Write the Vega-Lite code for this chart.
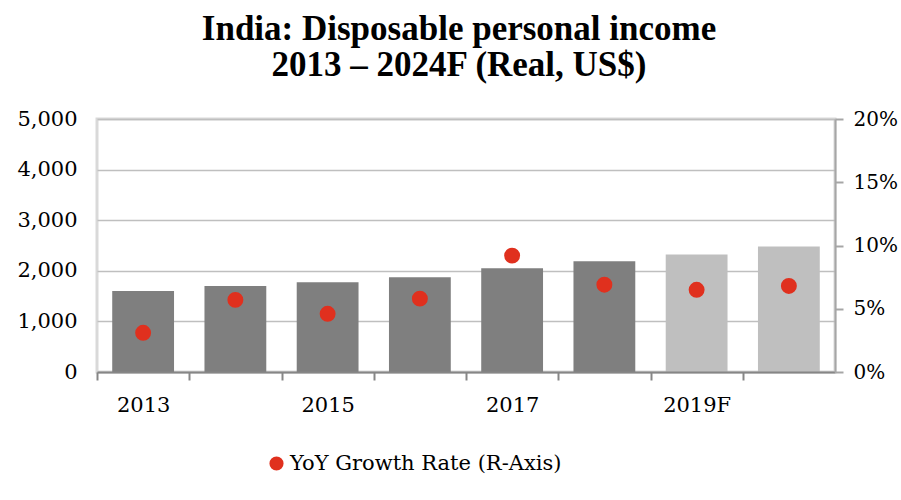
{
  "$schema": "https://vega.github.io/schema/vega-lite/v6.json",
  "autosize": "none",
  "width": 738,
  "height": 253,
  "padding": {"left": 97, "top": 119, "right": 66, "bottom": 128},
  "background": "white",
  "config": {
    "view": {"stroke": "#d9d9d9", "strokeWidth": 3},
    "font": "DejaVu Serif"
  },
  "title": {
    "text": ["India: Disposable personal income", "2013 – 2024F (Real, US$)"],
    "font": "Liberation Serif",
    "fontWeight": "bold",
    "fontSize": 35,
    "lineHeight": 36,
    "color": "#000000",
    "anchor": "middle",
    "dx": -7,
    "offset": 25
  },
  "data": {
    "values": [
      {"year": "2013", "income": 1600, "growth": 0.031, "type": "Actual", "series": "YoY Growth Rate (R-Axis)"},
      {"year": "2014", "income": 1700, "growth": 0.057, "type": "Actual", "series": "YoY Growth Rate (R-Axis)"},
      {"year": "2015", "income": 1775, "growth": 0.046, "type": "Actual", "series": "YoY Growth Rate (R-Axis)"},
      {"year": "2016", "income": 1875, "growth": 0.058, "type": "Actual", "series": "YoY Growth Rate (R-Axis)"},
      {"year": "2017", "income": 2050, "growth": 0.092, "type": "Actual", "series": "YoY Growth Rate (R-Axis)"},
      {"year": "2018", "income": 2190, "growth": 0.069, "type": "Actual", "series": "YoY Growth Rate (R-Axis)"},
      {"year": "2019F", "income": 2320, "growth": 0.065, "type": "Forecast", "series": "YoY Growth Rate (R-Axis)"},
      {"year": "2020F", "income": 2480, "growth": 0.068, "type": "Forecast", "series": "YoY Growth Rate (R-Axis)"}
    ]
  },
  "encoding": {
    "x": {
      "field": "year",
      "type": "nominal",
      "sort": null,
      "scale": {"paddingInner": 0.33, "paddingOuter": 0.165},
      "axis": {
        "title": null,
        "labelAngle": 0,
        "labelFont": "DejaVu Serif",
        "labelFontSize": 21,
        "labelColor": "#000000",
        "labelExpr": "indexof(['2013','2015','2017','2019F'], datum.value) >= 0 ? datum.value : ''",
        "tickOffset": -46.1,
        "labelOffset": 46.1,
        "tickSize": 8,
        "tickColor": "#868686",
        "tickWidth": 2,
        "domainColor": "#868686",
        "domainWidth": 2,
        "labelPadding": 14,
        "zindex": 2
      }
    }
  },
  "layer": [
    {
      "mark": {"type": "bar"},
      "encoding": {
        "y": {
          "field": "income",
          "type": "quantitative",
          "scale": {"domain": [0, 5000]},
          "axis": {
            "title": null,
            "values": [0, 1000, 2000, 3000, 4000, 5000],
            "format": ",.0f",
            "grid": true,
            "gridColor": "#bfbfbf",
            "gridWidth": 1.5,
            "domain": false,
            "ticks": false,
            "labelFont": "DejaVu Serif",
            "labelFontSize": 21,
            "labelColor": "#000000",
            "labelPadding": 20
          }
        },
        "color": {
          "field": "type",
          "type": "nominal",
          "scale": {"domain": ["Actual", "Forecast"], "range": ["#7f7f7f", "#bfbfbf"]},
          "legend": null
        }
      }
    },
    {
      "mark": {"type": "point", "filled": true, "size": 254, "opacity": 1, "shape": "circle"},
      "encoding": {
        "y": {
          "field": "growth",
          "type": "quantitative",
          "scale": {"domain": [0, 0.2]},
          "axis": {
            "title": null,
            "orient": "right",
            "values": [0, 0.05, 0.1, 0.15, 0.2],
            "format": ".0%",
            "grid": false,
            "domainColor": "#a6a6a6",
            "domainWidth": 2,
            "tickColor": "#a6a6a6",
            "tickWidth": 2,
            "tickSize": 8,
            "labelFont": "DejaVu Serif",
            "labelFontSize": 20,
            "labelColor": "#000000",
            "labelPadding": 10,
            "zindex": 2
          }
        },
        "fill": {
          "field": "series",
          "type": "nominal",
          "scale": {"range": ["#e0301e"]},
          "legend": {
            "title": null,
            "orient": "none",
            "legendX": 169,
            "legendY": 334,
            "symbolType": "circle",
            "symbolSize": 200,
            "symbolStrokeWidth": 0,
            "labelFont": "DejaVu Serif",
            "labelFontSize": 21,
            "labelColor": "#000000",
            "labelOffset": 3,
            "labelLimit": 500
          }
        }
      }
    }
  ],
  "resolve": {"scale": {"y": "independent"}, "axis": {"y": "independent"}}
}
